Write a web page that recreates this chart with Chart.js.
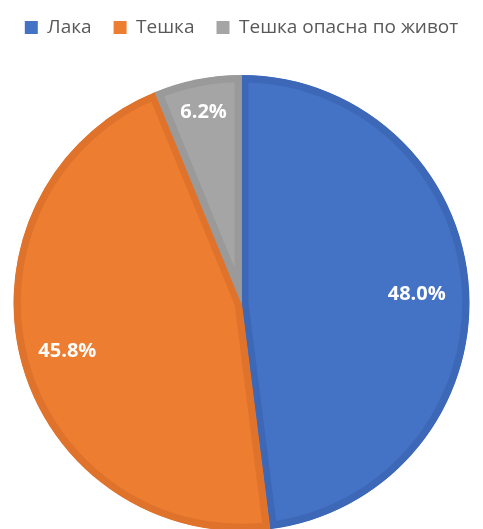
<!DOCTYPE html>
<html>
<head>
<meta charset="utf-8">
<script src="https://cdn.jsdelivr.net/npm/chart.js@4/dist/chart.umd.min.js"></script>
<style>
  html, body { margin: 0; padding: 0; background: #fff; overflow: hidden; }
  #wrap { position: absolute; left: 0; top: 0; width: 483px; height: 531px; }
</style>
</head>
<body>
<div id="wrap"><canvas id="grafik"></canvas></div>
<script>
const kategorii = ["Лака", "Тешка", "Тешка опасна по живот"];
const procenti = [48.0, 45.8, 6.2];
const boi = ["#4472C4", "#ED7D31", "#A5A5A5"];
const rabovi = ["#3D68B8", "#DF732B", "#9A9A9A"];

// colku daleku od centarot se natpisite (del od radiusot)
const poziciiNatpisi = [0.77, 0.79, 0.86];

const natpisi = {
  id: "natpisi",
  afterInit(chart) {
    // povekje prazen prostor pod legendata
    const fit = chart.legend.fit;
    chart.legend.fit = function () {
      fit.call(this);
      this.height = 79;
    };
  },
  afterDatasetsDraw(chart) {
    const ctx = chart.ctx;
    const meta = chart.getDatasetMeta(0);
    ctx.save();
    ctx.fillStyle = "#ffffff";
    ctx.font = "bold 20px 'Open Sans'";
    ctx.textAlign = "center";
    ctx.textBaseline = "middle";
    meta.data.forEach((arc, i) => {
      const p = arc.getProps(["x", "y", "startAngle", "endAngle", "outerRadius"], true);
      const sredina = (p.startAngle + p.endAngle) / 2;
      const r = p.outerRadius * poziciiNatpisi[i];
      ctx.fillText(procenti[i].toFixed(1) + "%", p.x + Math.cos(sredina) * r, p.y + Math.sin(sredina) * r + 2);
    });
    ctx.restore();
  }
};

new Chart(document.getElementById("grafik"), {
  type: "pie",
  data: {
    labels: kategorii,
    datasets: [{
      data: procenti,
      backgroundColor: boi,
      borderColor: rabovi,
      borderWidth: 7,
      borderAlign: "inner"
    }]
  },
  options: {
    responsive: true,
    maintainAspectRatio: false,
    animation: false,
    layout: { padding: { top: -4, bottom: 0 } },
    plugins: {
      tooltip: { enabled: false },
      legend: {
        position: "top",
        labels: {
          boxWidth: 13,
          boxHeight: 13,
          padding: 22,
          color: "#595959",
          font: { family: "'Open Sans'", size: 19 },
          generateLabels(chart) {
            return chart.data.labels.map((l, i) => ({
              text: l,
              fillStyle: boi[i],
              strokeStyle: boi[i],
              lineWidth: 0,
              fontColor: "#595959",
              index: i
            }));
          }
        }
      }
    }
  },
  plugins: [natpisi]
});
</script>
</body>
</html>
